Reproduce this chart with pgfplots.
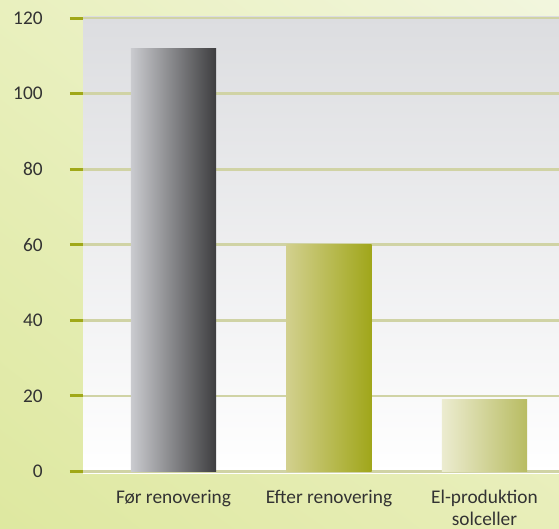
\documentclass[border=0pt]{standalone}
\usepackage{pgfplots}
\pgfplotsset{compat=1.18}
\usetikzlibrary{shadings}
\usepackage{fontspec}
\setmainfont{Carlito}

\definecolor{bgA}{RGB}{222,232,160}
\definecolor{bgB}{RGB}{242,246,222}
\definecolor{bgC}{RGB}{233,240,190}
\definecolor{bgD}{RGB}{232,238,185}
\definecolor{gridc}{RGB}{208,211,165}
\definecolor{tickc}{RGB}{160,168,24}
\definecolor{plottop}{RGB}{220,221,224}
\definecolor{barAl}{RGB}{202,203,207}
\definecolor{barAr}{RGB}{62,62,64}
\definecolor{barBl}{RGB}{210,208,142}
\definecolor{barBr}{RGB}{160,166,26}
\definecolor{barCl}{RGB}{236,236,208}
\definecolor{barCr}{RGB}{184,188,98}

\begin{document}
\begin{tikzpicture}
\shade[lower left=bgA, upper right=bgB, upper left=bgC, lower right=bgD]
  (-62.25pt,-41pt) rectangle (357pt,355pt);
\begin{axis}[
  scale only axis,
  width=357pt, height=342.6pt,
  xmin=-0.582, xmax=2.479,
  ymin=-0.5, ymax=120.4,
  axis line style={draw=none},
  axis background/.style={top color=plottop, bottom color=white},
  ytick={0,20,...,120},
  xtick={0,1,2},
  xticklabels={Før renovering, Efter renovering, El-produktion\\solceller},
  xticklabel style={align=center, font=\fontsize{14.5}{16.5}\selectfont, text=black!80, yshift=1pt},
  yticklabel style={font=\fontsize{14.5}{17.25}\selectfont, text=black!80, xshift=-17pt},
  /pgf/number format/assume math mode=true,
  ymajorgrids,
  major grid style={gridc, line width=2pt},
  tick align=outside,
  major tick length=9.75pt,
  tick pos=left,
  ytick style={tickc, line width=2.25pt},
  xtick style={draw=none},
]
\addplot[ybar, bar width=0.547, bar shift=0pt, draw=none, left color=barAl, right color=barAr]
  coordinates {(0,112)};
\addplot[ybar, bar width=0.547, bar shift=0pt, draw=none, left color=barBl, right color=barBr]
  coordinates {(1,60)};
\addplot[ybar, bar width=0.547, bar shift=0pt, draw=none, left color=barCl, right color=barCr]
  coordinates {(2,19)};
\end{axis}
\pgfresetboundingbox
\path (-62.25pt,-41pt) rectangle (357pt,355pt);
\end{tikzpicture}
\end{document}
